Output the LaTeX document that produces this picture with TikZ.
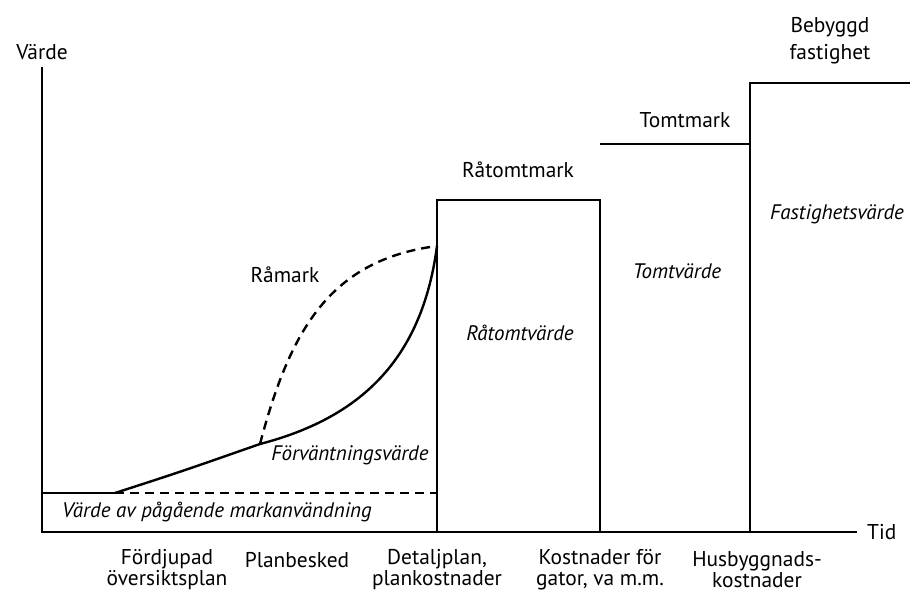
\documentclass[tikz,border=0pt]{standalone}
\usepackage{fontspec}
\setmainfont{PT Sans}
\usetikzlibrary{positioning}

\begin{document}
\begin{tikzpicture}[x=0.5pt,y=-0.5pt,line width=1.2pt,
  lbl/.style={font=\fontsize{10.7}{10.5}\selectfont, align=center, inner sep=0pt},
  val/.style={font=\fontsize{10.5}{11}\selectfont\itshape, align=center, inner sep=0pt},
  streck/.style={dash pattern=on 4.5pt off 3pt}]
\useasboundingbox (0,0) rectangle (912,592);
\coordinate (top) at (42,67);
\coordinate (o) at (42,532);
\coordinate (slut) at (857,532);
\coordinate (start) at (115,493);
\coordinate (besked) at (260,444);
\coordinate (detalj) at (437,246);
\draw (top) -- (o) -- (slut);
\draw (42,493) -- (start);
\draw[streck] (start) -- (437,493);
\draw (437,532) -- (437,200) -- (600,200) -- (600,532);
\draw (600,144) -- (750,144);
\draw (750,532) -- (750,83) -- (910,83);
\draw (start) .. controls (180,472) .. (besked) .. controls (360,418) and (422,360) .. (detalj);
\draw[streck] (besked) .. controls (290,330) and (330,260) .. (detalj);
\path (42,52) node[lbl] (varde) {Värde};
\path (866,532) node[lbl,anchor=west] (tid) {Tid};
\path (285,275) node[lbl] (ramark) {Råmark};
\path (518,170) node[lbl] (ratomtmark) {Råtomtmark};
\path (685,120) node[lbl] (tomtmark) {Tomtmark};
\path (830,41) node[lbl] (bebyggd) {Bebyggd\\[3pt]fastighet};
\path (837,214) node[val] (fastv) {Fastighetsvärde};
\path (677,271) node[val] (tomtv) {Tomtvärde};
\path (520,333) node[val] (ratomtv) {Råtomtvärde};
\path (350,455) node[val] (forv) {Förväntningsvärde};
\path (217,512) node[val] (pagaende) {Värde av pågående markanvändning};
\path (167,570) node[lbl] (fordjupad) {Fördjupad\\översiktsplan};
\path (297,560) node[lbl] (planbesked) {Planbesked};
\path (437,570) node[lbl] (detaljplan) {Detaljplan,\\plankostnader};
\path (600,570) node[lbl] (kostnader) {Kostnader för\\gator, va m.m.};
\path (757,570) node[lbl] (husbygg) {Husbyggnads-\\kostnader};
\end{tikzpicture}
\end{document}
